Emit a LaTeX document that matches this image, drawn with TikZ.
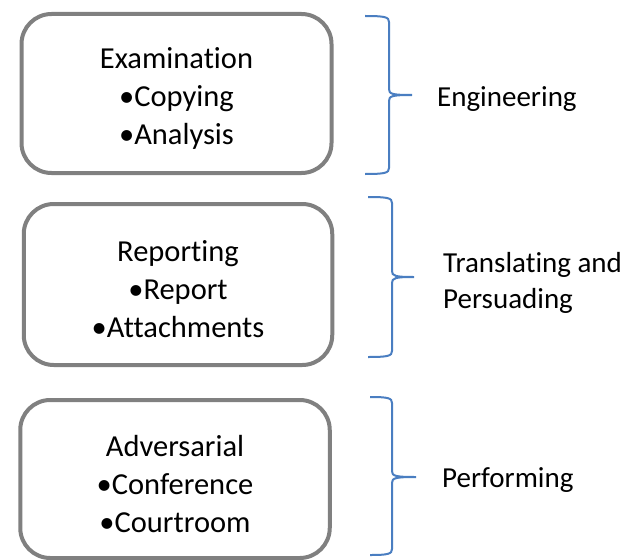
\documentclass[tikz,border=0pt]{standalone}
\usepackage{fontspec}
\setmainfont[Ligatures={NoCommon}]{Carlito}
\definecolor{boxgray}{RGB}{128,128,128}
\definecolor{braceblue}{RGB}{74,126,193}
\tikzset{
  stagebox/.style={draw=boxgray, line width=4pt, rounded corners=30pt, fill=white, inner sep=0pt},
  boxtext/.style={align=center, inner sep=0pt, font=\fontsize{30.5}{38}\selectfont},
  bracepath/.style={draw=braceblue, line width=2pt},
  sidelabel/.style={inner sep=0pt, font=\fontsize{29}{36}\selectfont, align=left}
}
\newcommand{\drawbrace}[6]{% left x, vertical x, tip x, top y, mid y, bottom y
  \draw[bracepath] (#1,#4) .. controls ({#2-4},#4) and (#2,{#4+1}) .. (#2,{#4+6})
    -- (#2,{#5-6}) .. controls (#2,{#5-1}) and ({#2+3},#5) .. (#3,#5)
    .. controls ({#2+3},#5) and (#2,{#5+1}) .. (#2,{#5+6})
    -- (#2,{#6-6}) .. controls (#2,{#6-1}) and ({#2-4},#6) .. (#1,#6);}
\begin{document}
\begin{tikzpicture}[x=1pt,y=-1pt]
\useasboundingbox (0,0) rectangle (628,559);
\clip (0,0) rectangle (628,559);
\node[stagebox, minimum width=310pt, minimum height=159pt] (b1) at (176.5,93.5) {};
\node[stagebox, minimum width=308.5pt, minimum height=161pt] (b2) at (178,284.5) {};
\node[stagebox, minimum width=309.5pt, minimum height=158pt] (b3) at (175,479) {};
\node[boxtext] (t1) at ([yshift=-5pt]b1.center) {Examination\\•Copying\\•Analysis};
\node[boxtext] (t2) at ([yshift=-5pt]b2.center) {Reporting\\•Report\\•Attachments};
\node[boxtext] (t3) at ([yshift=-5pt]b3.center) {Adversarial\\•Conference\\•Courtroom};
\drawbrace{365}{389}{412}{16}{95}{174}
\drawbrace{368}{392}{414}{197}{277}{357}
\drawbrace{370}{392}{416}{397}{477}{555}
\node[sidelabel, anchor=base west] (l1) at (437,106.7) {Engineering};
\node[sidelabel, anchor=west] (l2) at (443,283) {Translating and\\Persuading};
\node[sidelabel, anchor=base west] (l3) at (442,487) {Performing};
\end{tikzpicture}
\end{document}
